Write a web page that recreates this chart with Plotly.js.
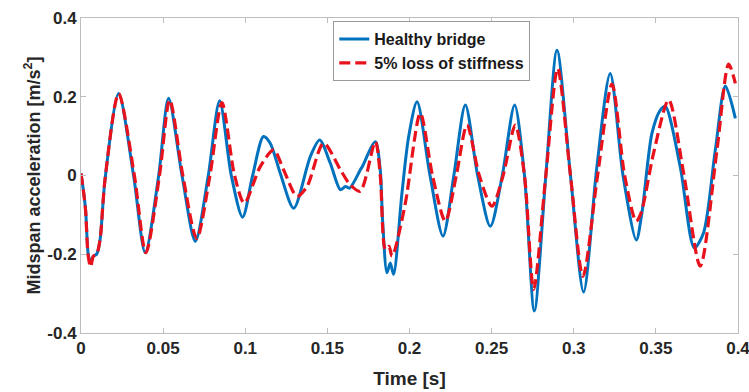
<!DOCTYPE html>
<html>
<head>
<meta charset="utf-8">
<script src="https://cdn.plot.ly/plotly-3.0.1.min.js"></script>
<style>html,body{margin:0;padding:0;background:#fff;}#chart{width:749px;height:392px;}</style>
</head>
<body>
<div id="chart"></div>
<script>
// Healthy bridge (blue, solid)
const healthyTime = [0, 0.0014, 0.0028, 0.0044, 0.0059, 0.0075, 0.0095, 0.0116, 0.0146, 0.0229, 0.032, 0.0391, 0.0473, 0.0533, 0.0615, 0.0696, 0.0775, 0.0844, 0.0915, 0.0984, 0.1045, 0.1111, 0.1152, 0.1213, 0.1295, 0.1396, 0.1453, 0.1518, 0.1579, 0.161, 0.1635, 0.170, 0.1713, 0.1792, 0.1822, 0.1836, 0.1863, 0.1883, 0.1903, 0.1954, 0.1995, 0.2046, 0.2125, 0.2204, 0.227, 0.234, 0.2415, 0.2492, 0.2565, 0.264, 0.27, 0.276, 0.283, 0.2898, 0.298, 0.306, 0.3141, 0.3222, 0.33, 0.3381, 0.3415, 0.3476, 0.3527, 0.3557, 0.3648, 0.3734, 0.379, 0.3862, 0.3923, 0.3984];
const healthyAcc = [0.005, -0.036, -0.087, -0.2, -0.222, -0.205, -0.2, -0.163, -0.011, 0.208, 0, -0.196, 0, 0.196, 0, -0.167, 0, 0.19, 0, -0.106, 0, 0.099, 0.082, 0.006, -0.083, 0.048, 0.09, 0.031, -0.036, -0.028, -0.032, 0.014, 0.023, 0.086, 0.014, -0.112, -0.247, -0.222, -0.251, -0.045, 0.099, 0.187, 0, -0.154, 0, 0.179, 0, -0.129, 0, 0.179, 0, -0.344, 0, 0.318, 0, -0.296, 0.023, 0.259, 0, -0.164, -0.095, 0.107, 0.166, 0.176, 0.023, -0.184, -0.146, 0.065, 0.227, 0.145];

// 5% loss of stiffness (red, dashed)
const damagedTime = [0, 0.0014, 0.0028, 0.0044, 0.0059, 0.0075, 0.0095, 0.0116, 0.0146, 0.0229, 0.0325, 0.0395, 0.0478, 0.054, 0.062, 0.0705, 0.0785, 0.0858, 0.0935, 0.0994, 0.1092, 0.1173, 0.1234, 0.1315, 0.1376, 0.1477, 0.158, 0.164, 0.170, 0.1792, 0.1822, 0.1853, 0.1875, 0.1893, 0.191, 0.1975, 0.2066, 0.214, 0.2218, 0.2285, 0.235, 0.2425, 0.2502, 0.257, 0.2644, 0.27, 0.2756, 0.283, 0.2902, 0.298, 0.3056, 0.3145, 0.3233, 0.331, 0.338, 0.341, 0.3486, 0.3578, 0.3669, 0.377, 0.3872, 0.3943, 0.3984];
const damagedAcc = [0.005, -0.036, -0.09, -0.205, -0.232, -0.205, -0.2, -0.163, -0.011, 0.208, 0, -0.196, 0, 0.192, 0, -0.16, 0, 0.185, 0, -0.07, 0.023, 0.065, 0.014, -0.053, -0.028, 0.082, 0.014, -0.024, -0.04, 0.086, 0.0, -0.188, -0.18, -0.205, -0.19, -0.07, 0.158, 0, -0.116, 0, 0.128, 0, -0.078, 0, 0.128, 0, -0.289, 0, 0.272, 0, -0.256, 0, 0.232, 0, -0.116, -0.095, 0.057, 0.192, 0.006, -0.23, 0.065, 0.283, 0.234];

const seriesNames = ['Healthy bridge', '5% loss of stiffness'];
const xTickVals = [0, 0.05, 0.1, 0.15, 0.2, 0.25, 0.3, 0.35, 0.4];
const xTickText = ['0', '0.05', '0.1', '0.15', '0.2', '0.25', '0.3', '0.35', '0.4'];
const yTickVals = [-0.4, -0.2, 0, 0.2, 0.4];
const yTickText = ['-0.4', '-0.2', '0', '0.2', '0.4'];

const tickFont = {family: 'Liberation Sans Narrow, Arial Narrow, Liberation Sans, Arial, sans-serif', size: 17, color: '#262626', weight: 'bold'};

const traces = [
  {x: healthyTime, y: healthyAcc, name: seriesNames[0], type: 'scatter', mode: 'lines',
   line: {color: 'rgb(0,114,189)', width: 3, shape: 'spline', smoothing: 0.8}},
  {x: damagedTime, y: damagedAcc, name: seriesNames[1], type: 'scatter', mode: 'lines',
   line: {color: 'rgb(232,18,28)', width: 3.2, dash: '11px,5px', shape: 'spline', smoothing: 0.8}}
];

const axisCommon = {
  showgrid: false, zeroline: false, showline: true, linecolor: '#bdbdbd', linewidth: 1,
  mirror: 'ticks', ticks: 'inside', ticklen: 5, tickcolor: '#bdbdbd', tickwidth: 1,
  tickfont: tickFont, tickmode: 'array', ticklabeloverflow: 'allow'
};

const layout = {
  width: 749, height: 392,
  margin: {l: 81, r: 11, t: 18, b: 59},
  paper_bgcolor: '#fff', plot_bgcolor: '#fff',
  showlegend: true,
  legend: {x: 0.384, y: 0.99, xanchor: 'left', yanchor: 'top', bgcolor: '#fff',
    bordercolor: '#9a9a9a', borderwidth: 1, itemwidth: 30, tracegroupgap: 0,
    font: {family: 'Liberation Sans, Arial, sans-serif', size: 16, color: '#1a1a1a', weight: 'bold'}},
  xaxis: Object.assign({}, axisCommon, {range: [0, 0.4], tickvals: xTickVals, ticktext: xTickText,
    title: {text: 'Time [s]', standoff: 14, font: {family: 'Liberation Sans Narrow, Arial Narrow, Liberation Sans, Arial, sans-serif', size: 19, color: '#262626', weight: 'bold'}}}),
  yaxis: Object.assign({}, axisCommon, {range: [-0.4, 0.4], tickvals: yTickVals, ticktext: yTickText,
    title: {text: 'Midspan acceleration [m/s<sup>2</sup>]', standoff: 2, font: {family: 'Liberation Sans, Arial, sans-serif', size: 18, color: '#262626', weight: 'bold'}}})
};

Plotly.newPlot('chart', traces, layout, {displayModeBar: false, staticPlot: true});
</script>
</body>
</html>
